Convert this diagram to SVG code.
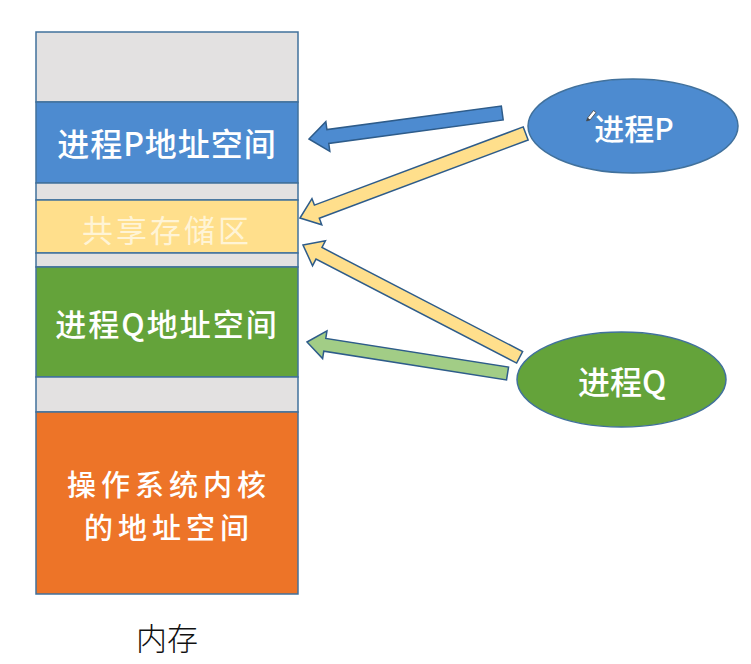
<svg xmlns="http://www.w3.org/2000/svg" width="751" height="664" viewBox="0 0 751 664">
<style>
.seg{stroke:#41719C;stroke-width:1.5}
.gray{fill:#E3E1E1}
.blue{fill:#4D8BD0}
.yellow{fill:#FFDF8C}
.green{fill:#64A33A}
.orange{fill:#ED7428}
.t{font-family:"Noto Sans CJK SC","Noto Sans",sans-serif;fill:#FFFFFF;text-anchor:middle;dominant-baseline:central;font-weight:500}
.arrow{stroke:#2E5C8A;stroke-width:1.5;stroke-linejoin:miter}
</style>
<rect width="751" height="664" fill="#FFFFFF"/>
<g id="memory">
<rect class="seg gray" x="36" y="32" width="262" height="70"/>
<g id="p-space"><rect class="seg blue" x="36" y="102" width="262" height="81"/>
<text class="t" x="167" y="142" font-size="32" letter-spacing="1">进程P地址空间</text></g>
<rect class="seg gray" x="36" y="183" width="262" height="17"/>
<g id="shared"><rect class="seg yellow" x="36" y="200" width="262" height="53"/>
<text class="t" x="167" y="228" font-size="31" letter-spacing="3" style="fill:#FFF4D6;font-weight:400">共享存储区</text></g>
<rect class="seg gray" x="36" y="253" width="262" height="14"/>
<g id="q-space"><rect class="seg green" x="36" y="267" width="262" height="110"/>
<text class="t" x="167" y="322" font-size="31" letter-spacing="2">进程Q地址空间</text></g>
<rect class="seg gray" x="36" y="377" width="262" height="35"/>
<g id="kernel"><rect class="seg orange" x="36" y="412" width="262" height="182"/>
<text class="t" x="169" y="483" font-size="29" letter-spacing="5">操作系统内核</text>
<text class="t" x="169" y="526" font-size="29" letter-spacing="5">的地址空间</text></g>
<text x="167" y="636" font-family="Noto Sans CJK SC, sans-serif" font-size="31" fill="#111111" text-anchor="middle" dominant-baseline="central" font-weight="300">内存</text>
</g>
<g id="connectors">
<polygon class="arrow" fill="#4D8BD0" transform="translate(309,139) rotate(-7.65)" points="0,0 19,-15 19,-7 195,-7 195,7 19,7 19,15"/>
<polygon class="arrow" fill="#FFDF8C" transform="translate(300,218) rotate(-20.54)" points="0,0 18,-14 18,-7 241,-7 241,7 18,7 18,14"/>
<polygon class="arrow" fill="#FFDF8C" transform="translate(303,245) rotate(27.4)" points="0,0 18,-14 18,-6.5 244,-6.5 244,6.5 18,6.5 18,14"/>
<polygon class="arrow" fill="#A2CD86" transform="translate(307,342) rotate(8.93)" points="0,0 18,-14 18,-6.5 203,-6.5 203,6.5 18,6.5 18,14"/>
</g>
<g id="process-p">
<ellipse cx="633" cy="126" rx="105" ry="47" fill="#4D8BD0" stroke="#41719C" stroke-width="1.5"/>
<path d="M587.5,118 L593.5,110.5 L596,112.5 L590,120 Z" fill="#FFFFFF" stroke="#444444" stroke-width="0.8"/>
<path d="M587.5,118 L586.5,121 L590,120" fill="#444444" stroke="#444444" stroke-width="0.6"/>
<text class="t" x="634" y="127" font-size="30">进程P</text>
</g>
<g id="process-q">
<ellipse cx="621.5" cy="379.5" rx="104.5" ry="47.5" fill="#64A33A" stroke="#41719C" stroke-width="1.5"/>
<text class="t" x="622" y="380" font-size="32">进程Q</text>
</g>
</svg>
